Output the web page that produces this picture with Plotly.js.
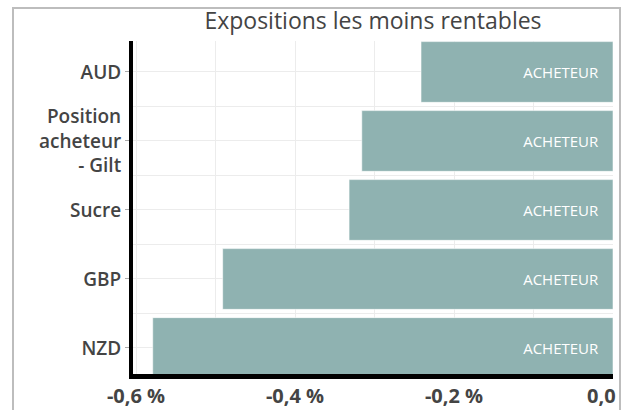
<!DOCTYPE html>
<html>
<head>
<meta charset="utf-8">
<script src="https://cdn.plot.ly/plotly-3.0.1.min.js"></script>
<style>
  html, body { margin: 0; padding: 0; background: #fff; }
  #frame { position: absolute; left: 12px; top: 7px; width: 605px; height: 420px;
           border: 2px solid #bdbdbd; background: #fff; }
  #chart { position: absolute; left: 0; top: 0; width: 631px; height: 410px;
           clip-path: inset(0 12px 0 0); }
</style>
</head>
<body>
<div id="frame"></div>
<div id="chart"></div>
<script>
const categories = ['AUD', 'Position<br>acheteur<br>- Gilt', 'Sucre', 'GBP', 'NZD'];
const values = [-0.2415, -0.316, -0.332, -0.491, -0.579];
const barLabels = ['ACHETEUR', 'ACHETEUR', 'ACHETEUR', 'ACHETEUR', 'ACHETEUR'];
const xTickVals = [-0.6, -0.4, -0.2, 0.0];
const xTickText = ['-0,6 %', '-0,4 %', '-0,2 %', '0,0 %'];
const xMinorVals = [-0.5, -0.3, -0.1];
const titleText = 'Expositions les moins rentables';

const positions = categories.map((c, i) => i);
const halfPositions = categories.slice(1).map((c, i) => i + 0.5);
const paddedLabels = barLabels.map(t => t + '\u00a0\u00a0\u00a0');

const trace = {
  type: 'bar',
  orientation: 'h',
  x: values,
  y: positions,
  text: paddedLabels,
  textposition: 'inside',
  insidetextanchor: 'start',
  textangle: 0,
  textfont: { family: 'Open Sans', size: 15, color: '#ffffff' },
  marker: { color: '#8fb2b1', line: { color: 'rgba(255,255,255,0.55)', width: 1 } },
  hoverinfo: 'none'
};

const layout = {
  width: 631,
  height: 410,
  margin: { l: 133, r: 18, t: 41, b: 36 },
  paper_bgcolor: 'rgba(0,0,0,0)',
  plot_bgcolor: '#ffffff',
  showlegend: false,
  bargap: 0.12,
  title: {
    text: titleText,
    font: { family: 'Open Sans', size: 23, color: '#444444' },
    x: 0.5, xref: 'paper', xanchor: 'center',
    y: 1 - 21 / 410, yref: 'container', yanchor: 'middle'
  },
  xaxis: {
    range: [-0.6038, 0],
    tickvals: xTickVals,
    ticktext: xTickText,
    ticklabeloverflow: 'allow',
    showgrid: true,
    gridcolor: '#ececec',
    gridwidth: 1,
    minor: { tickvals: xMinorVals, showgrid: true, gridcolor: '#ececec', ticklen: 0 },
    zeroline: false,
    showline: true,
    linecolor: '#000000',
    linewidth: 5,
    ticks: '',
    tickfont: { family: 'Open Sans', size: 20, color: '#444444', weight: 'bold' },
    fixedrange: true
  },
  yaxis: {
    range: [4.377, -0.449],
    tickvals: positions,
    ticktext: categories,
    showgrid: true,
    gridcolor: '#ececec',
    gridwidth: 1,
    minor: { tickvals: halfPositions, showgrid: true, gridcolor: '#ececec', ticklen: 0 },
    zeroline: false,
    showline: true,
    linecolor: '#000000',
    linewidth: 4,
    ticks: 'outside',
    ticklen: 4,
    tickwidth: 1,
    tickcolor: '#aaaaaa',
    tickfont: { family: 'Open Sans', size: 19, color: '#444444', weight: 600 },
    fixedrange: true
  }
};

Plotly.newPlot('chart', [trace], layout, { displayModeBar: false, staticPlot: true });
</script>
</body>
</html>
